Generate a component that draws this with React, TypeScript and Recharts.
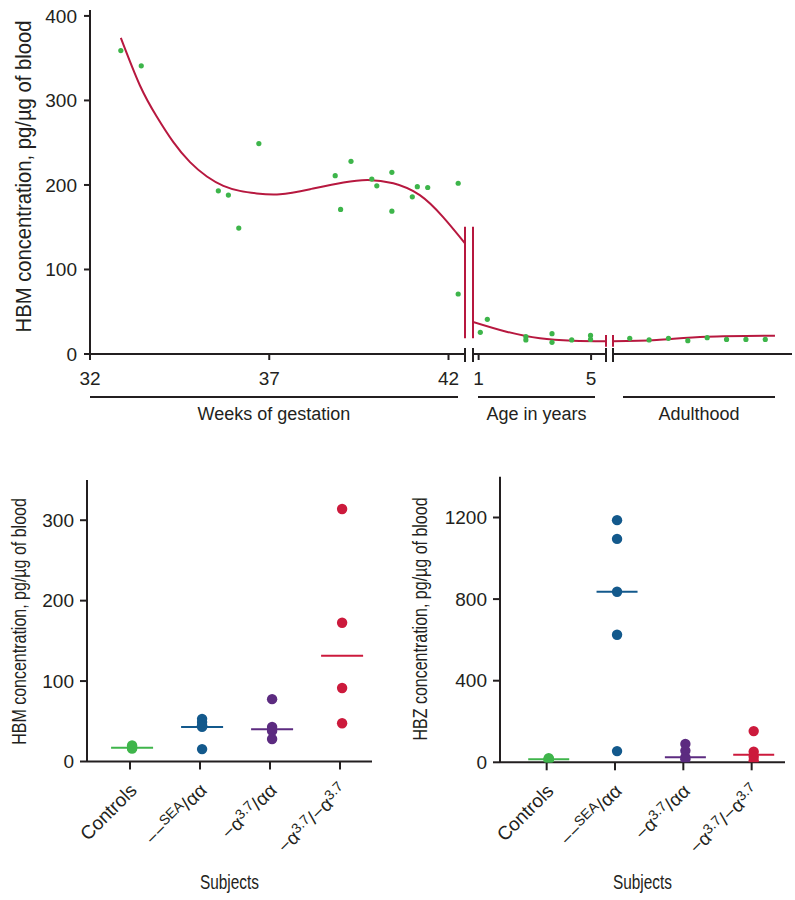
import { ComposedChart, Scatter, Line, XAxis, YAxis, ReferenceLine } from "recharts";

const FONT = "'Liberation Sans', Arial, Helvetica, sans-serif";
const INK = "#231f20";
const CURVE = "#b7183f";
const DOT_GREEN = "#3db54a";

// top panel, weeks of gestation
const gestationWeeks = [32.86, 33.43, 35.58, 35.86, 36.15, 36.71, 38.84, 38.99, 39.28, 39.86, 40.0, 40.42, 40.42, 40.99, 41.13, 41.42, 42.27, 42.27];
const gestationHbm = [359, 341, 193, 188, 149, 249, 211, 171, 228, 207, 199, 215, 169, 186, 198, 197, 202, 71];
const gestationFitWeeks = [32.86, 33.39, 33.86, 34.32, 34.79, 35.26, 35.72, 36.18, 36.65, 37.3, 38.14, 39.07, 39.75, 40.46, 41.2, 41.85, 42.46];
const gestationFitHbm = [374, 318, 281, 251, 227, 210, 199, 193, 190, 189, 195, 203, 206, 202, 188, 162, 131];

// top panel, age in years
const ageYears = [1.06, 1.31, 2.68, 2.68, 3.61, 3.61, 4.31, 4.98, 4.98];
const ageHbm = [25.7, 41, 20.5, 16.6, 24, 13.8, 16.6, 22, 17.3];
const ageFitYears = [0.8, 1.99, 3.18, 4.36, 5.53];
const ageFitHbm = [38, 26.4, 18.5, 15.8, 15];

// top panel, adulthood (no scale, subjects in order)
const adultIndex = [1, 2, 3, 4, 5, 6, 7, 8];
const adultHbm = [18.5, 16.6, 18.5, 15.8, 19.3, 17.3, 17.3, 17.3];
const adultFitIndex = [0.135, 2.39, 4.98, 8.5];
const adultFitHbm = [15, 16.6, 20.5, 21.7];

const hbmTicks = [0, 100, 200, 300, 400];
const weekTicks = [32, 37, 42];
const ageTicks = [1, 5];

// bottom panels
const subjectColors = ["#3fb54b", "#13598c", "#5c2b80", "#cc1a3c"];
const subjectLabels: [string, boolean][][] = [
  [["Controls", false]],
  [["−−", false], ["SEA", true], ["/αα", false]],
  [["−α", false], ["3.7", true], ["/αα", false]],
  [["−α", false], ["3.7", true], ["/−α", false], ["3.7", true]],
];
const hbmControls = [16, 18, 20, 17];
const hbmSea = [53, 49, 45, 43, 15.4];
const hbmA37 = [77.5, 43, 38, 28];
const hbmA37A37 = [314, 172.5, 91.4, 47.6];
const hbmMedians = [17, 43, 40, 131.5];
const hbzControls = [11, 14, 17, 20];
const hbzSea = [1187, 1095, 836, 625, 55];
const hbzA37 = [90, 57, 25, 15];
const hbzA37A37 = [153, 52, 27, 8];
const hbzMedians = [14.7, 836, 24.5, 37];
const hbmSubjectTicks = [0, 100, 200, 300];
const hbzTicks = [0, 400, 800, 1200];

type Pt = { x: number; y: number };
const zip = (xs: number[], ys: number[]): Pt[] => xs.map((x, i) => ({ x, y: ys[i] }));

const axisStroke = { stroke: INK, strokeWidth: 2 };
const tickText = { fill: INK, fontSize: 19, fontFamily: FONT };

// condensed axis titles: the source uses a narrow face, so squeeze horizontally
const NarrowText = ({ x, y, angle, size, squeeze, text }: any) => (
  <text
    transform={`translate(${x},${y}) rotate(${angle}) scale(${squeeze},1)`}
    textAnchor="middle"
    fontFamily={FONT}
    fontSize={size}
    fill={INK}
  >
    {text}
  </text>
);

type Segment = {
  left: number;
  width: number;
  marginLeft: number;
  marginRight: number;
  domain: [number, number];
  ticks: number[];
  dots: Pt[];
  fit: Pt[];
  title: string;
  lineInset: [number, number];
  breaks: { x: number; tall: boolean }[];
  withYAxis: boolean;
};

const segments: Segment[] = [
  {
    left: 0, width: 470, marginLeft: 0, marginRight: 5,
    domain: [32, 42.46], ticks: weekTicks,
    dots: zip(gestationWeeks, gestationHbm), fit: zip(gestationFitWeeks, gestationFitHbm),
    title: "Weeks of gestation", lineInset: [0, 7],
    breaks: [{ x: 42.46, tall: true }], withYAxis: true,
  },
  {
    left: 468, width: 143, marginLeft: 5, marginRight: 5,
    domain: [0.8, 5.53], ticks: ageTicks,
    dots: zip(ageYears, ageHbm), fit: zip(ageFitYears, ageFitHbm),
    title: "Age in years", lineInset: [5, 11],
    breaks: [{ x: 0.8, tall: true }, { x: 5.53, tall: false }], withYAxis: false,
  },
  {
    left: 608, width: 186, marginLeft: 5, marginRight: 2,
    domain: [0.135, 9.38], ticks: [],
    dots: zip(adultIndex, adultHbm), fit: zip(adultFitIndex, adultFitHbm),
    title: "Adulthood", lineInset: [10, 17],
    breaks: [{ x: 0.135, tall: false }], withYAxis: false,
  },
];

const GroupTitle = ({ viewBox, title, inset }: any) => {
  const x1 = viewBox.x + inset[0];
  const x2 = viewBox.x + viewBox.width - inset[1];
  const y = viewBox.y + 43;
  return (
    <g>
      <line x1={x1} x2={x2} y1={y} y2={y} stroke={INK} strokeWidth={2} />
      <text x={(x1 + x2) / 2} y={viewBox.y + 66} textAnchor="middle" fontFamily={FONT} fontSize={18} fill={INK}>
        {title}
      </text>
    </g>
  );
};

const TopSegment = ({ s }: { s: Segment }) => {
  const hasTicks = s.ticks.length > 0;
  return (
    <div style={{ position: "absolute", left: s.left, top: 0 }}>
      <ComposedChart
        width={s.width}
        height={440}
        margin={{ top: 10, right: s.marginRight, bottom: 0, left: s.marginLeft }}
      >
        <XAxis
          type="number"
          dataKey="x"
          domain={s.domain}
          allowDataOverflow
          ticks={hasTicks ? s.ticks : undefined}
          interval={0}
          tick={hasTicks ? tickText : false}
          tickLine={hasTicks ? axisStroke : false}
          axisLine={axisStroke}
          tickSize={6}
          tickMargin={12}
          height={86}
          label={{ content: (p: any) => <GroupTitle viewBox={p.viewBox} title={s.title} inset={s.lineInset} /> }}
        />
        <YAxis
          type="number"
          dataKey="y"
          domain={[0, 407]}
          allowDataOverflow
          ticks={hbmTicks}
          interval={0}
          hide={!s.withYAxis}
          width={90}
          tick={tickText}
          tickLine={axisStroke}
          axisLine={axisStroke}
          tickSize={6}
          tickMargin={7}
          label={{
            content: () => (
              <NarrowText x={31} y={176.5} angle={-90} size={22} squeeze={0.92} text="HBM concentration, pg/µg of blood" />
            ),
          }}
        />
        {s.breaks.map((b, i) => (
          <ReferenceLine
            key={`end-${i}`}
            segment={[{ x: b.x, y: 7.1 }, { x: b.x, y: -9.5 }]}
            stroke={INK}
            strokeWidth={2}
            ifOverflow="visible"
          />
        ))}
        {s.breaks.map((b, i) => (
          <ReferenceLine
            key={`brk-${i}`}
            segment={b.tall ? [{ x: b.x, y: 18.6 }, { x: b.x, y: 150.5 }] : [{ x: b.x, y: 8.6 }, { x: b.x, y: 22.5 }]}
            stroke={CURVE}
            strokeWidth={2}
            ifOverflow="visible"
          />
        ))}
        <Scatter
          data={s.dots}
          dataKey="y"
          isAnimationActive={false}
          shape={(p: any) => <circle cx={p.cx} cy={p.cy} r={2.6} fill={DOT_GREEN} />}
        />
        <Line
          data={s.fit}
          dataKey="y"
          type="natural"
          stroke={CURVE}
          strokeWidth={2}
          dot={false}
          activeDot={false}
          isAnimationActive={false}
        />
      </ComposedChart>
    </div>
  );
};

const SubjectTick = ({ x, y, payload }: any) => {
  const parts = subjectLabels[payload.value] || [];
  let raised = false;
  return (
    <g transform={`translate(${x + 8},${y + 20}) rotate(-45)`}>
      <text textAnchor="end" fontFamily={FONT} fontSize={19} fill={INK}>
        {parts.map(([t, sup], i) => {
          const dy = sup && !raised ? -6 : !sup && raised ? 6 : 0;
          raised = sup;
          return (
            <tspan key={i} dy={dy} fontSize={sup ? 14 : 19}>
              {t}
            </tspan>
          );
        })}
      </text>
    </g>
  );
};

type Panel = {
  left: number;
  top: number;
  width: number;
  marginTop: number;
  marginRight: number;
  plotHeight: number;
  yWidth: number;
  yDomain: [number, number];
  yTicks: number[];
  xDomain: [number, number];
  groups: number[][];
  medians: number[];
  title: string;
  titleX: number;
  titleY: number;
};

const panels: Panel[] = [
  {
    left: 0, top: 470, width: 380, marginTop: 10, marginRight: 8, plotHeight: 281.5, yWidth: 87,
    yDomain: [0, 350], yTicks: hbmSubjectTicks, xDomain: [-0.614, 3.457],
    groups: [hbmControls, hbmSea, hbmA37, hbmA37A37], medians: hbmMedians,
    title: "HBM concentration, pg/µg of blood", titleX: 26, titleY: 151.5,
  },
  {
    left: 400, top: 470, width: 395, marginTop: 6.7, marginRight: 10, plotHeight: 285.6, yWidth: 100,
    yDomain: [0, 1400], yTicks: hbzTicks, xDomain: [-0.683, 3.488],
    groups: [hbzControls, hbzSea, hbzA37, hbzA37A37], medians: hbzMedians,
    title: "HBZ concentration, pg/µg of blood", titleX: 27, titleY: 149,
  },
];

const SubjectPanel = ({ p }: { p: Panel }) => {
  const height = 430;
  return (
    <div style={{ position: "absolute", left: p.left, top: p.top }}>
      <ComposedChart
        width={p.width}
        height={height}
        margin={{ top: p.marginTop, right: p.marginRight, bottom: 0, left: 0 }}
      >
        <XAxis
          type="number"
          dataKey="x"
          domain={p.xDomain}
          allowDataOverflow
          ticks={[0, 1, 2, 3]}
          interval={0}
          tick={<SubjectTick />}
          tickLine={axisStroke}
          axisLine={axisStroke}
          tickSize={8}
          tickMargin={2}
          height={height - p.marginTop - p.plotHeight}
          label={{
            content: (l: any) => (
              <NarrowText
                x={l.viewBox.x + l.viewBox.width / 2}
                y={l.viewBox.y + 127}
                angle={0}
                size={20}
                squeeze={0.77}
                text="Subjects"
              />
            ),
          }}
        />
        <YAxis
          type="number"
          dataKey="y"
          domain={p.yDomain}
          allowDataOverflow
          ticks={p.yTicks}
          interval={0}
          width={p.yWidth}
          tick={tickText}
          tickLine={axisStroke}
          axisLine={axisStroke}
          tickSize={7}
          tickMargin={6}
          label={{
            content: () => (
              <NarrowText x={p.titleX} y={p.titleY} angle={-90} size={20} squeeze={0.8} text={p.title} />
            ),
          }}
        />
        {p.medians.map((m, i) => (
          <ReferenceLine
            key={`med-${i}`}
            segment={[{ x: i + 0.03 - 0.3, y: m }, { x: i + 0.03 + 0.3, y: m }]}
            stroke={subjectColors[i]}
            strokeWidth={2}
            ifOverflow="visible"
          />
        ))}
        {p.groups.map((g, i) => (
          <Scatter
            key={`grp-${i}`}
            data={g.map((v) => ({ x: i + 0.03, y: v }))}
            dataKey="y"
            isAnimationActive={false}
            shape={(s: any) => <circle cx={s.cx} cy={s.cy} r={5.2} fill={subjectColors[i]} />}
          />
        ))}
      </ComposedChart>
    </div>
  );
};

export default function App() {
  return (
    <div style={{ position: "absolute", left: 0, top: 0, width: 795, height: 900, background: "#fff" }}>
      {segments.map((s, i) => (
        <TopSegment key={i} s={s} />
      ))}
      {panels.map((p, i) => (
        <SubjectPanel key={i} p={p} />
      ))}
    </div>
  );
}
